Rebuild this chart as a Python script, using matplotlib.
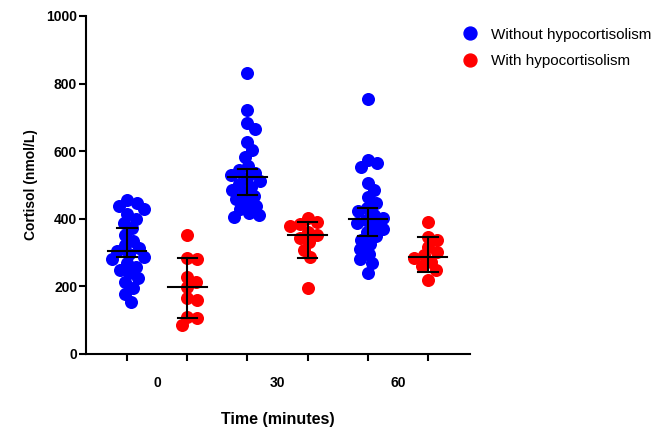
import matplotlib.pyplot as plt
import numpy as np
from matplotlib.lines import Line2D

# cortisol values (nmol/L)
without_0 = [455, 447, 438, 428, 415, 400, 388, 372, 352, 335, 322, 312, 304,
             296, 288, 280, 268, 258, 248, 238, 226, 212, 195, 178, 155]
with_0 = [352, 284, 280, 228, 213, 198, 166, 160, 109, 105, 86]
without_30 = [832, 722, 683, 665, 627, 603, 583, 556, 545, 536, 528, 520, 512,
              503, 494, 485, 476, 467, 458, 448, 438, 428, 418, 411, 405]
with_30 = [402, 390, 385, 378, 360, 352, 343, 332, 308, 287, 195]
without_60 = [754, 574, 565, 553, 506, 485, 463, 446, 432, 422, 412, 403, 396,
              388, 380, 370, 360, 350, 338, 325, 310, 295, 280, 268, 239]
with_60 = [391, 347, 338, 317, 302, 292, 284, 272, 260, 249, 219]

# median and error bar ends
centers = [305, 198, 524, 352, 399, 287]
lows = [287, 107, 470, 284, 349, 243]
highs = [373, 284, 546, 390, 432, 347]

series = [without_0, with_0, without_30, with_30, without_60, with_60]
time_labels = ["0", "30", "60"]
blue = "#0000FF"
red = "#FF0000"
series_colors = [blue, red, blue, red, blue, red]


def swarm_offsets(vals, ypx, dmin):
    """simple swarm: place each point as close to the centre as possible"""
    order = np.argsort(vals)[::-1]
    placed = []
    offs = np.zeros(len(vals))
    cands = [0.0]
    for k in range(1, 80):
        cands += [k * 0.5, -k * 0.5]
    for idx in order:
        y = vals[idx] * ypx
        for c in cands:
            if all((c - px) ** 2 + (y - py) ** 2 >= dmin ** 2 for px, py in placed):
                break
        placed.append((c, y))
        offs[idx] = c
    return offs


plt.rcParams["font.family"] = ["Liberation Sans", "DejaVu Sans"]

fig = plt.figure(figsize=(6.53, 4.30), dpi=100)
ax = fig.add_axes([0.132, 0.177, 0.588, 0.786])
ax.set_xlim(-0.68, 5.70)
ax.set_ylim(0, 1000)

# pixel scale of the axes, used to lay out the swarm
bbox = ax.get_window_extent()
xpx = bbox.width / 6.38
ypx = bbox.height / 1000

for i, vals in enumerate(series):
    vals = np.array(vals, dtype=float)
    offs = swarm_offsets(vals, ypx, 9.5)
    ax.scatter(i + offs / xpx, vals, s=88, color=series_colors[i],
               linewidths=0, zorder=2)

for i, (m, lo, hi) in enumerate(zip(centers, lows, highs)):
    ax.plot([i - 0.32, i + 0.32], [m, m], color="black", lw=1.5, zorder=3)
    ax.plot([i, i], [lo, hi], color="black", lw=1.5, zorder=3)
    ax.plot([i - 0.16, i + 0.16], [lo, lo], color="black", lw=1.5, zorder=3)
    ax.plot([i - 0.16, i + 0.16], [hi, hi], color="black", lw=1.5, zorder=3)

ax.set_yticks([0, 200, 400, 600, 800, 1000])
ax.set_xticks(range(6))
ax.set_xticklabels([])
ax.set_xticks([0.5, 2.5, 4.5], minor=True)
ax.set_xticklabels(time_labels, minor=True)
ax.tick_params(axis="x", which="minor", length=0, pad=16)
ax.tick_params(axis="x", which="major", length=5, width=1.5)
ax.tick_params(axis="y", length=5, width=1.5, pad=1.5)
for lab in ax.get_yticklabels() + ax.get_xticklabels(minor=True):
    lab.set_fontweight("bold")
    lab.set_fontsize(10)

for s in ["top", "right"]:
    ax.spines[s].set_visible(False)
for s in ["left", "bottom"]:
    ax.spines[s].set_linewidth(1.5)

ax.set_xlabel("Time (minutes)", fontsize=11.5, fontweight="bold", labelpad=16)
ax.set_ylabel("Cortisol (nmol/L)", fontsize=10, fontweight="bold", labelpad=6)

handles = [Line2D([], [], marker="o", ls="", color=blue, markersize=9.3,
                  label="Without hypocortisolism"),
           Line2D([], [], marker="o", ls="", color=red, markersize=9.3,
                  label="With hypocortisolism")]
fig.legend(handles=handles, loc="upper left", bbox_to_anchor=(0.675, 0.968),
           frameon=False, fontsize=11, handletextpad=0.4, labelspacing=0.82)

fig.savefig("out.png", dpi=100)
